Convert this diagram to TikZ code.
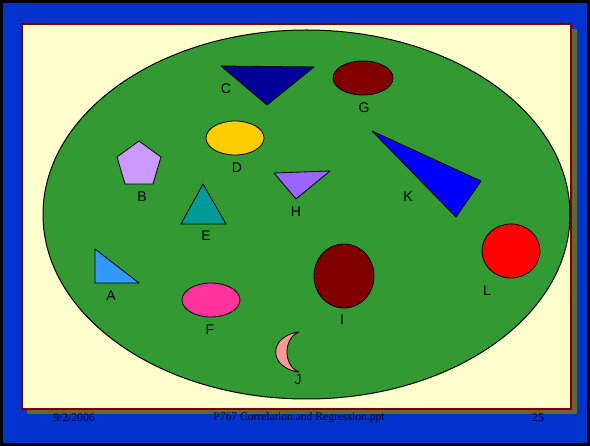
\documentclass[tikz,border=0pt]{standalone}
\usepackage{fontspec}
\setmainfont{Liberation Serif}
\setsansfont{Liberation Sans}
\usetikzlibrary{calc}
\definecolor{slideblue}{RGB}{0,51,204}
\definecolor{slidecream}{RGB}{255,255,204}
\definecolor{slideframe}{RGB}{128,0,0}
\definecolor{slideshadow}{RGB}{102,102,51}
\definecolor{fieldgreen}{RGB}{51,153,51}
\definecolor{shpnavy}{RGB}{0,0,153}
\definecolor{shpmaroon}{RGB}{128,0,0}
\definecolor{shpyellow}{RGB}{255,204,0}
\definecolor{shplilac}{RGB}{204,153,255}
\definecolor{shpteal}{RGB}{0,153,153}
\definecolor{shpviolet}{RGB}{153,102,255}
\definecolor{shpsky}{RGB}{51,153,255}
\definecolor{shppink}{RGB}{255,51,153}
\definecolor{shprose}{RGB}{255,153,153}
\definecolor{shpblue}{RGB}{0,0,255}
\definecolor{shpred}{RGB}{255,0,0}

\begin{document}
\begin{tikzpicture}[
  x=1pt, y=-1pt,
  figure/.style={draw=black, line width=0.8pt, line join=round},
  letter/.style={font=\sffamily\fontsize{14}{16}\selectfont, inner sep=0pt},
  footer/.style={font=\rmfamily\fontsize{11.6}{13}\selectfont, text=black!85!blue, inner sep=0pt}
]
  \useasboundingbox (0,0) rectangle (590,446);
  % slide background
  \fill[black] (0,0) rectangle (590,446);
  \fill[slideblue] (3,3) rectangle (587,443);
  \fill[slideshadow] (27,29) rectangle (577,414);
  \filldraw[fill=slidecream, draw=slideframe, line width=2pt] (22,24) rectangle (571,409);
  \filldraw[fill=fieldgreen, draw=black, line width=1pt] (306.5,214.5) ellipse [x radius=263.5, y radius=184.5];

  % shapes
  \filldraw[figure, fill=shpnavy] (221,66) -- (314,67) -- (267,105) -- cycle;
  \filldraw[figure, fill=shpmaroon] (363,78) ellipse [x radius=30, y radius=17];
  \filldraw[figure, fill=shpyellow] (235,138) ellipse [x radius=29, y radius=17];
  \filldraw[figure, fill=shplilac] (139,141) -- (161,157) -- (153,184) -- (125,184) -- (117,157) -- cycle;
  \filldraw[figure, fill=shpteal] (203,184) -- (226,224) -- (181,224) -- cycle;
  \filldraw[figure, fill=shpviolet] (274,173) -- (330,171) -- (296,199) -- cycle;
  \filldraw[figure, fill=shpsky] (95,249) -- (139,283) -- (95,283) -- cycle;
  \filldraw[figure, fill=shppink] (211,300) ellipse [x radius=29, y radius=17];
  \filldraw[figure, fill=shpmaroon] (344,276) ellipse [x radius=30, y radius=32];
  \filldraw[figure, fill=shprose] (299,332) .. controls (268,336) and (268,368) .. (299,372)
    .. controls (283,366) and (283,338) .. (299,332) -- cycle;
  \filldraw[figure, fill=shpblue] (372,131) -- (481,181) -- (456,217) -- cycle;
  \filldraw[figure, fill=shpred] (511,251) ellipse [x radius=29, y radius=27];

  % labels
  \node[letter] (labA) at (111,296) {A};
  \node[letter] (labB) at (142,197) {B};
  \node[letter] (labC) at (226,89) {C};
  \node[letter] (labD) at (237,168) {D};
  \node[letter] (labE) at (206,236) {E};
  \node[letter] (labF) at (210,330) {F};
  \node[letter] (labG) at (364,108) {G};
  \node[letter] (labH) at (296,212) {H};
  \node[letter] (labI) at (342,320) {I};
  \node[letter] (labJ) at (298,380) {J};
  \node[letter] (labK) at (408,197) {K};
  \node[letter] (labL) at (487,291) {L};

  % footer
  \node[footer] (date) at (74,418) {9/2/2006};
  \node[footer] (title) at (299,418) {P767 Correlation and Regression.ppt};
  \node[footer] (page) at (538,418) {25};
\end{tikzpicture}
\end{document}
